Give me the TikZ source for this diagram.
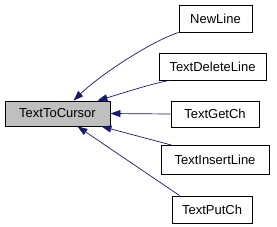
\documentclass[tikz,border=0pt]{standalone}
\usepackage{fontspec}
\setmainfont{Liberation Sans}
\usepackage{tikz}
\usetikzlibrary{arrows.meta, positioning}
\definecolor{edgeblue}{HTML}{191970}
\definecolor{nodegray}{HTML}{BFBFBF}
\tikzset{
  fnbox/.style  ={draw=black, line width=0.8pt, fill=white, minimum height=27pt,
                  inner sep=2pt, font=\fontsize{13}{15}\selectfont},
  fnroot/.style ={fnbox, fill=nodegray},
  call/.style   ={{Triangle[length=10pt,width=7pt,fill=edgeblue]}-, line width=0.7pt,
                  draw=edgeblue}
}
\begin{document}
\begin{tikzpicture}[x=1pt, y=-1pt]
  \useasboundingbox (0,0) rectangle (277,226);

  \node[fnroot, minimum width=105pt, minimum height=25pt] (cursor) at (57.5,113.5) {TextToCursor};

  \node[fnbox, minimum width=73pt]  (newline)    at (215.5,18.5) {NewLine};
  \node[fnbox, minimum width=107pt] (deleteline) at (212.5,66.5) {TextDeleteLine};
  \node[fnbox, minimum width=88pt, minimum height=26pt] (getch) at (215,114) {TextGetCh};
  \node[fnbox, minimum width=108pt, minimum height=29pt] (insertline) at (215,160) {TextInsertLine};
  \node[fnbox, minimum width=80pt]  (putch)      at (212,209.5) {TextPutCh};

  \draw[call] ([xshift=16pt]cursor.north) .. controls (100,75) and (150,42) .. (newline.south west);
  \draw[call] ([xshift=-13pt]cursor.north east) .. controls (120,94) and (150,84) .. ([xshift=11pt]deleteline.south west);
  \draw[call] (cursor.east) -- (getch.west);
  \draw[call] ([xshift=-9pt]cursor.south east) -- ([xshift=11pt]insertline.north west);
  \draw[call] ([xshift=20pt]cursor.south) -- ([xshift=8pt]putch.north west);

\end{tikzpicture}
\end{document}
